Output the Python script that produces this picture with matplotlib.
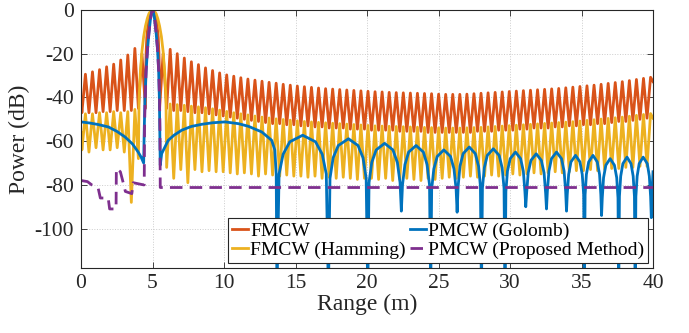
import numpy as np
import matplotlib.pyplot as plt

plt.rcParams['font.family'] = ['Liberation Serif', 'DejaVu Serif']
plt.rcParams['axes.unicode_minus'] = False

target = 5.0      # target range (m)
lobe_m = 0.494    # sidelobe spacing (m)
x_end = 40.0

# FMCW (rectangular) - main lobe offset from target (m) and level (dB)
fm_main_off = [0, 0.1, 0.2, 0.3, 0.4, 0.445, 0.47]
fm_main_db = [0, -0.6, -2.4, -5.9, -12.6, -19.2, -25.6]
# left side: nulls at bins 1..10, peaks at bins 1.5..9.5
fm_null_left = [-45, -45, -46, -46, -46, -46.5, -46.5, -47, -47, -47]
fm_peak_left = [-20, -17.6, -20.6, -22.9, -24.8, -26, -27.3, -28.3, -29.4]
fm_edge_left = -40
# right side: nulls at bins 1..70, peaks at bins 1.5..70.5
fm_null_right = [
    -45, -45, -46, -46, -46.5, -47, -47, -47.5, -48, -48.5,
    -49, -49.5, -50, -50.5, -51, -51.5, -52, -52, -52.5, -52.5,
    -53, -53, -53.5, -53.5, -54, -54, -54, -54.5, -54.5, -54.5,
    -55, -55, -55, -55, -55.5, -55.5, -55.5, -55.5, -56, -56,
    -56, -56, -56, -56, -56, -55.5, -55.5, -55.5, -55, -55,
    -55, -54.5, -54.5, -54, -54, -54, -53.5, -53.5, -53, -53,
    -52.5, -52.5, -52, -52, -51.5, -51, -51, -50.5, -50, -49.5]
fm_peak_right = [
    -20, -18, -20, -22, -23.7, -25, -26.5, -27.7, -28.8, -29.7,
    -30.3, -31, -31.6, -32.1, -32.6, -33.1, -33.5, -34, -34.4, -34.8,
    -35.1, -35.4, -35.7, -36, -36.2, -36.4, -36.6, -36.8, -37, -37.2,
    -37.4, -37.5, -37.7, -37.8, -37.9, -38, -38.1, -38.2, -38.3, -38.5,
    -38.6, -38.6, -38.6, -38.5, -38.3, -38.1, -37.9, -37.7, -37.5, -37.3,
    -37.1, -36.9, -36.7, -36.5, -36.3, -36.1, -35.9, -35.6, -35.3, -35,
    -34.7, -34.4, -34, -33.6, -33.2, -32.8, -32.3, -31.8, -31.3, -30.8]
fm_edge_right = -32.8

# FMCW (Hamming)
hm_main_off = [0, 0.12, 0.25, 0.37, 0.494, 0.62, 0.74, 0.86, 0.94]
hm_main_db = [0, -0.4, -1.7, -4, -7.4, -12.2, -18.9, -29.4, -40.7]
# left side: nulls at bins 2..10, peaks at bins 2.5..9.5
hm_null_left = [-68, -88, -65, -63, -64, -64, -63, -65, -64]
hm_peak_left = [-45.5, -46.5, -47, -46.5, -47, -47, -47.5, -47.5]
hm_edge_left = -56
# right side: nulls at bins 2..70, peaks at bins 2.5..70.5
hm_null_right = [
    -72, -77, -73, -79, -73, -74, -73.5, -74, -74,
    -74.5, -75, -74.5, -75, -76, -75, -75.5, -76, -75.5, -76,
    -76, -76.5, -76, -77, -76.5, -77, -76.5, -77, -77.5, -77,
    -77, -77.5, -77, -78, -77.5, -77, -77.5, -78, -77, -77.5,
    -77, -76.5, -77, -76.5, -76, -76.5, -76, -75.5, -76, -75.5,
    -75, -75.5, -75, -74.5, -75, -74.5, -74, -74.5, -74, -73.5,
    -73.5, -73, -73.5, -73, -72.5, -72.5, -72, -72, -71.5, -71.5]
hm_peak_right = [
    -43, -43.3, -43.6, -44, -44.3, -44.7, -45.2, -45.8, -46.4, -47,
    -47.5, -48, -48.5, -49, -49.4, -49.8, -50.1, -50.4, -50.7, -51,
    -51.2, -51.4, -51.6, -51.8, -52, -52.2, -52.4, -52.6, -52.8, -53,
    -53.1, -53.2, -53.3, -53.4, -53.5, -53.6, -53.7, -53.8, -53.9, -54,
    -54, -54, -53.9, -53.8, -53.7, -53.5, -53.3, -53.1, -52.9, -52.7,
    -52.5, -52.3, -52.1, -51.9, -51.7, -51.5, -51.3, -51.1, -50.8, -50.5,
    -50.2, -49.9, -49.6, -49.3, -49, -48.6, -48.2, -47.8, -47.4]
hm_edge_right = -49.5

# PMCW (Golomb)
golomb_x = [
    0, 0.6, 1.2, 1.91, 2.5, 3.08, 3.6, 4.0, 4.2, 4.38,
    4.42, 4.47, 4.55, 4.65, 4.75, 4.85, 4.93, 5.0, 5.07, 5.15,
    5.25, 5.35, 5.43, 5.48, 5.51, 5.54,
    5.64, 6.1, 6.5, 7.04, 7.7, 8.44, 9.2, 10.07, 11.0, 11.7,
    12.64, 13.33, 13.55, 13.65, 13.7,
    13.85, 14.13, 14.6, 15.5, 16.4, 16.87, 17.15, 17.3,
    17.41, 17.63, 17.99, 18.7, 19.37, 19.72, 19.94, 20.05,
    20.14, 20.33, 20.64, 21.23, 21.81, 22.12, 22.31, 22.4,
    22.48, 22.65, 22.91, 23.43, 23.94, 24.2, 24.37, 24.45,
    24.52, 24.67, 24.91, 25.37, 25.84, 26.08, 26.23, 26.3,
    26.37, 26.5, 26.72, 27.15, 27.57, 27.8, 27.93, 28.0,
    28.07, 28.2, 28.41, 28.83, 29.24, 29.45, 29.58, 29.65,
    29.71, 29.82, 30.01, 30.38, 30.74, 30.93, 31.04, 31.1,
    31.16, 31.27, 31.46, 31.83, 32.19, 32.38, 32.49, 32.55,
    32.61, 32.72, 32.9, 33.25, 33.6, 33.78, 33.89, 33.95,
    34.0, 34.1, 34.26, 34.58, 34.89, 35.05, 35.15, 35.2,
    35.25, 35.34, 35.5, 35.8, 36.1, 36.26, 36.35, 36.4,
    36.45, 36.54, 36.7, 37.0, 37.3, 37.46, 37.55, 37.6,
    37.65, 37.74, 37.89, 38.18, 38.46, 38.61, 38.7, 38.75,
    38.8, 38.89, 39.03, 39.31, 39.6, 39.74, 39.83, 39.88,
    39.95, 40.0]
golomb_db = [
    -51.2, -51.7, -52.4, -53.5, -55.5, -58.1, -61.3, -65, -67.3, -70,
    -55, -41, -28, -18, -10.5, -4.5, -1.2, 0, -1.2, -4.5,
    -10.5, -18, -28, -41, -55, -71,
    -65.7, -59.6, -57.3, -55, -53.3, -52.3, -51.6, -51.2, -52, -53.2,
    -55.8, -59.6, -64, -75, -130,
    -75, -66, -60.3, -57.3, -60.3, -66, -75, -130,
    -77, -67.6, -62, -58.9, -62, -67.6, -77, -130,
    -79, -69.7, -64, -61, -64, -69.7, -79, -92,
    -80, -70.7, -65, -62, -65, -70.7, -80, -130,
    -82, -72.7, -67, -64, -67, -72.7, -82, -92.5,
    -80.7, -71.4, -65.7, -62.7, -65.7, -71.4, -80.7, -130,
    -81.5, -72.2, -66.5, -63.5, -66.5, -72.2, -81.5, -130,
    -83, -73.7, -68, -65, -68, -73.7, -83, -90,
    -83.8, -74.5, -68.8, -65.8, -68.8, -74.5, -83.8, -91,
    -83, -73.7, -68, -65, -68, -73.7, -83, -92,
    -84.5, -75.2, -69.5, -66.5, -69.5, -75.2, -84.5, -130,
    -84.5, -75.2, -69.5, -66.5, -69.5, -75.2, -84.5, -94,
    -86, -76.7, -71, -68, -71, -76.7, -86, -130,
    -85.3, -76, -70.3, -67.3, -70.3, -76, -85.3, -130,
    -85.3, -76, -70.3, -67.3, -70.3, -76, -85.3, -95,
    -80, -74]

# PMCW (Proposed Method)
proposed_x = [
    0, 0.45, 0.75, 1.2, 1.35, 1.9, 2.0, 2.45, 2.47, 2.75,
    2.95, 3.1, 3.55, 3.65, 4.38,
    4.42, 4.44, 4.48, 4.55, 4.65, 4.75, 4.85, 4.93, 5.0, 5.07,
    5.15, 5.25, 5.35, 5.43, 5.49, 5.52, 5.54, 40.0]
proposed_db = [
    -78, -78.5, -80, -81.5, -86, -86, -91, -91, -72.5, -74,
    -79, -83, -84, -79, -80,
    -80, -55, -41, -28, -18, -10.5, -4.5, -1.2, 0, -1.2,
    -4.5, -10.5, -18, -28, -41, -55, -81.2, -81.2]


def lobe_curve(main_off, main_db, b0, null_l, peak_l, edge_l, null_r, peak_r, edge_r):
    left = sorted([(b0 + i, v) for i, v in enumerate(null_l)] +
                  [(b0 + 0.5 + i, v) for i, v in enumerate(peak_l)])
    right = sorted([(b0 + i, v) for i, v in enumerate(null_r)] +
                   [(b0 + 0.5 + i, v) for i, v in enumerate(peak_r)])
    x = ([0.0] + [target - b * lobe_m for b, _ in reversed(left)]
         + [target - o for o in reversed(main_off[1:])]
         + [target + o for o in main_off]
         + [target + b * lobe_m for b, _ in right] + [x_end])
    y = ([edge_l] + [v for _, v in reversed(left)]
         + list(reversed(main_db[1:])) + list(main_db)
         + [v for _, v in right] + [edge_r])
    return np.array(x), np.array(y)


fm_x, fm_y = lobe_curve(fm_main_off, fm_main_db, 1, fm_null_left, fm_peak_left, fm_edge_left,
                        fm_null_right, fm_peak_right, fm_edge_right)
hm_x, hm_y = lobe_curve(hm_main_off, hm_main_db, 2, hm_null_left, hm_peak_left, hm_edge_left,
                        hm_null_right, hm_peak_right, hm_edge_right)

fig = plt.figure(figsize=(6.89, 3.33), dpi=100)
ax = fig.add_axes([0.1176, 0.1952, 0.8302, 0.775])

lw = 2.0
ax.plot(fm_x, fm_y, color='#D95319', lw=lw, label='FMCW')
ax.plot(hm_x, hm_y, color='#EDB120', lw=lw, label='FMCW (Hamming)')
ax.plot(golomb_x, golomb_db, color='#0072BD', lw=lw, label='PMCW (Golomb)')
ax.plot(proposed_x, proposed_db, color='#7E2F8E', lw=lw, ls=(0, (4.5, 2.6)),
        label='PMCW (Proposed Method)')

ax.set_xlim(0, 40)
ax.set_ylim(-118, 0)
ax.set_xticks(np.arange(0, 41, 5))
ax.set_yticks(np.arange(-100, 1, 20))
ax.grid(True, ls=':', color='#cccccc', lw=0.7)
ax.tick_params(direction='in', top=True, right=True, length=4, width=0.6,
               colors='#262626', labelsize=15.5)
ax.tick_params(axis='x', pad=4)
ax.tick_params(axis='y', pad=5)
for s in ax.spines.values():
    s.set_color('#262626')
    s.set_linewidth(0.8)

ax.set_xlabel('Range (m)', fontsize=17, color='#262626', labelpad=1)
ax.set_ylabel('Power (dB)', fontsize=17, color='#262626', labelpad=3)

leg = ax.legend(ncol=2, loc='lower right', fontsize=14, fancybox=False,
                framealpha=1, edgecolor='#262626', handlelength=0.85,
                handletextpad=0.1, columnspacing=0.2, labelspacing=0.1,
                borderpad=0.2, borderaxespad=0.25)
leg.get_frame().set_linewidth(0.8)

fig.savefig('out.png', dpi=100)
